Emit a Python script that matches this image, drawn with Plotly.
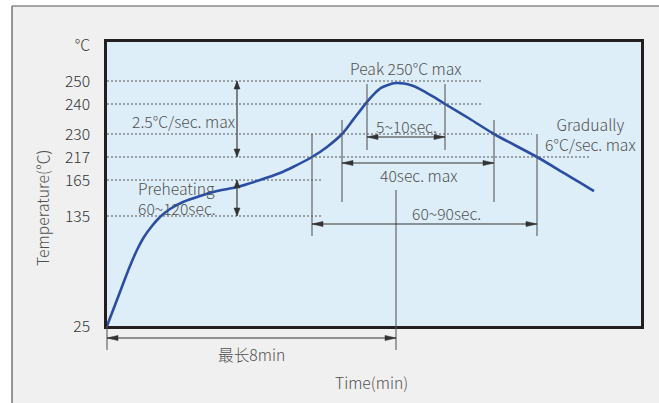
import numpy as np
import plotly.graph_objects as go

# ---------------- data ----------------
# Non-linear (schematic) temperature axis: tick temperatures and their heights
temp_ticks = [25, 135, 165, 217, 230, 240, 250]
tick_height = [0, 110, 146, 169, 192, 222, 245]
unit_label = "°C"

# Reflow profile (schematic time units, temperature in °C)
time = [0, 8, 16, 23, 30, 37, 45, 53, 63, 76, 93, 110, 130, 153, 173, 186,
        205, 220, 235, 246, 253, 260, 267, 274, 281, 289, 297, 305, 313, 325,
        338, 363, 387, 430, 458, 473, 487]
temp = [25, 46, 67, 85, 101, 114, 125, 134, 140.8, 146.7, 151.7, 155.8, 159.2,
        165, 180.8, 194.4, 217, 222.7, 230, 234.7, 237.7, 240.9, 244.3, 247.0,
        248.3, 249.1, 248.9, 248.0, 246.5, 243.5, 240, 235, 230, 217, 179.3,
        162.8, 155.8]

# key instants (schematic time units)
t_ramp = 130       # ramp / preheat arrows
t_217_up, t_230_up, t_240_up = 205, 235, 260
t_8min = 289
t_240_dn, t_230_dn, t_217_dn = 338, 387, 430

# ---------------- geometry ----------------
W, H = 659, 403
L, R, T, B = 107, 18, 42, 77
PW, PH = W - L - R, H - T - B
XMAX, YMAX = PW, PH


def ty(v):
    return float(np.interp(v, temp_ticks, tick_height))


def px_x(px):      # figure pixel x -> paper
    return (px - L) / PW


def px_y(py):      # figure pixel y -> paper
    return (H - B - py) / PH


FONT = "Noto Sans CJK SC"
TXT = "#505050"
LINE = "#5a5a5a"
DARK = "#333333"
BLUE = "#2b4ea2"

fig = go.Figure()
fig.add_trace(go.Scatter(
    x=time, y=[ty(v) for v in temp], mode="lines",
    line=dict(color=BLUE, width=2.6, shape="spline", smoothing=0.8),
    hoverinfo="skip", showlegend=False))

shapes = []

# outer frame: white margin strips + thin gray border
shapes.append(dict(type="rect", xref="paper", yref="paper", x0=px_x(-5), x1=px_x(12),
                   y0=px_y(410), y1=px_y(-5), fillcolor="white", line_width=0))
shapes.append(dict(type="rect", xref="paper", yref="paper", x0=px_x(-5), x1=px_x(665),
                   y0=px_y(6), y1=px_y(-5), fillcolor="white", line_width=0))
shapes.append(dict(type="line", xref="paper", yref="paper", x0=px_x(12), x1=px_x(12),
                   y0=px_y(6), y1=px_y(410), line=dict(color="#555555", width=1.2)))
shapes.append(dict(type="line", xref="paper", yref="paper", x0=px_x(12), x1=px_x(665),
                   y0=px_y(6), y1=px_y(6), line=dict(color="#555555", width=1.2)))

# dotted reference lines
dot_end = {250: 376, 240: 376, 230: 425, 217: 483, 165: 216, 135: 216}
for tv, xe in dot_end.items():
    shapes.append(dict(type="line", xref="x", yref="y", x0=0, x1=xe, y0=ty(tv), y1=ty(tv),
                       layer="below", line=dict(color="#555555", width=1, dash="2px,2px")))


def vline(x, y0, y1, color=LINE, w=1.1):
    shapes.append(dict(type="line", xref="x", yref="y", x0=x, x1=x, y0=y0, y1=y1,
                       line=dict(color=color, width=w)))


def hline(y, x0, x1, color=DARK, w=1.1):
    shapes.append(dict(type="line", xref="x", yref="y", x0=x0, x1=x1, y0=y, y1=y,
                       line=dict(color=color, width=w)))


def head(x, y, d, xref="x", yref="y", ln=11, hw=2.6, color=DARK):
    paths = {
        "r": f"M0,0 L{-ln},{hw} L{-ln},{-hw} Z",
        "l": f"M0,0 L{ln},{hw} L{ln},{-hw} Z",
        "u": f"M0,0 L{-hw},{-ln} L{hw},{-ln} Z",
        "d": f"M0,0 L{-hw},{ln} L{hw},{ln} Z",
    }
    shapes.append(dict(type="path", xref=xref, yref=yref, xsizemode="pixel", ysizemode="pixel",
                       xanchor=x, yanchor=y, path=paths[d], fillcolor=color,
                       line=dict(color=color, width=0.5)))


# ramp arrow 250 -> 217 and preheat arrow 165 -> 135
vline(t_ramp, ty(250), ty(217), color="#666666", w=1.6)
head(t_ramp, ty(250), "u", ln=8, hw=3, color="#333333")
head(t_ramp, ty(217), "d", ln=8, hw=3, color="#333333")
vline(t_ramp, ty(165), ty(135), color="#666666", w=1.6)
head(t_ramp, ty(165), "u", ln=8, hw=3, color="#333333")
head(t_ramp, ty(135), "d", ln=8, hw=3, color="#333333")

# vertical markers
vline(t_217_up, ty(230), 90)
vline(t_217_dn, ty(230), 90)
vline(t_230_up, 206, 124)
vline(t_230_dn, 206, 124)
vline(t_240_up, 242, 176)
vline(t_240_dn, 242, 176)
shapes.append(dict(type="line", xref="paper", yref="paper", x0=t_8min / XMAX, x1=t_8min / XMAX,
                   y0=136 / YMAX, y1=px_y(350), line=dict(color=LINE, width=1.1)))
shapes.append(dict(type="line", xref="paper", yref="paper", x0=0, x1=0,
                   y0=0, y1=px_y(350), line=dict(color=LINE, width=1.1)))

# horizontal duration arrows
y_510, y_40, y_6090 = 189, 163, 102
hline(y_510, t_240_up, t_240_dn)
head(t_240_up, y_510, "l")
head(t_240_dn, y_510, "r")
hline(y_40, t_230_up, t_230_dn)
head(t_230_up, y_40, "l")
head(t_230_dn, y_40, "r")
hline(y_6090, t_217_up, t_217_dn)
head(t_217_up, y_6090, "l")
head(t_217_dn, y_6090, "r")
y8 = px_y(338)
shapes.append(dict(type="line", xref="paper", yref="paper", x0=0, x1=t_8min / XMAX,
                   y0=y8, y1=y8, line=dict(color=DARK, width=1.1)))
head(0, y8, "l", xref="paper", yref="paper")
head(t_8min / XMAX, y8, "r", xref="paper", yref="paper")

fig.update_layout(shapes=shapes)

FS = 15.7


def note(text, x, y, xref="x", yref="y", xanchor="center", size=FS, color=TXT, angle=0,
         align="center"):
    fig.add_annotation(text=text, x=x, y=y, xref=xref, yref=yref, xanchor=xanchor,
                       yanchor="middle", showarrow=False, textangle=angle, align=align,
                       font=dict(family=FONT, size=size, color=color, weight=300))


note("2.5°C/sec. max", 76, 205)
note("Preheating<br>60~120sec.", 29, 128, xanchor="left", align="left")
note("Peak 250°C max", 299, 258)
note("5~10sec.", 299, 200)
note("40sec. max", 312, 151)
note("Gradually<br>6°C/sec. max", 483, 191.5)
note("60~90sec.", 339, 113)
note("最长8min", 144 / XMAX, px_y(354), xref="paper", yref="paper")
note("Time(min)", 264 / XMAX, px_y(382), xref="paper", yref="paper")
note("Temperature(℃)", px_x(42), px_y(208), xref="paper", yref="paper", angle=-90)

fig.update_layout(
    width=W, height=H,
    margin=dict(l=L, r=R, t=T, b=B, pad=0),
    paper_bgcolor="#f0f0f0",
    plot_bgcolor="#ddeef9",
    showlegend=False,
    xaxis=dict(range=[0, XMAX], showgrid=False, zeroline=False, showticklabels=False,
               showline=True, mirror=True, linecolor="#231f20", linewidth=2.5, fixedrange=True),
    yaxis=dict(range=[0, YMAX], showgrid=False, zeroline=False,
               tickvals=tick_height + [281], ticktext=[str(v) for v in temp_ticks] + [unit_label],
               ticks="outside", ticklen=11, tickcolor="rgba(0,0,0,0)",
               tickfont=dict(family=FONT, size=FS, color="#333333", weight=300),
               showline=True, mirror=True, linecolor="#231f20", linewidth=2.5, fixedrange=True),
)

fig.write_html(
    "out.html",
    config={"displayModeBar": False},
    post_script="document.body.style.margin='0';document.body.style.overflow='hidden';",
)
